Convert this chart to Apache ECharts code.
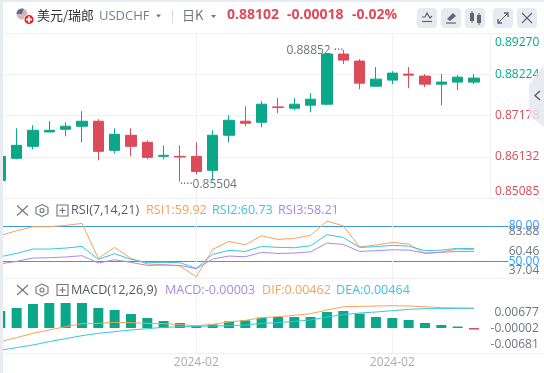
<!DOCTYPE html>
<html><head><meta charset="utf-8">
<style>html,body{margin:0;padding:0;background:#fff}#c{width:544px;height:373px}</style>
<script src="https://cdn.jsdelivr.net/npm/echarts@6/dist/echarts.min.js"></script>
</head><body><div id="c"></div>
<script>
const categories = ['','','','','','','','','','','','','2024-02','','','','','','','','','','','','2024-02','','','','','',''];
const opens  = [.85533,.86094,.864,.86766,.86834,.8691,.87038,.86298,.86681,.86502,.86145,.86145,.86145,.85788,.86681,.87038,.87012,.87403,.87369,.87446,.87471,.88747,.88568,.87931,.88084,.88237,.88186,.87982,.88033,.88033];
const closes = [.86145,.86425,.86808,.86808,.8691,.87038,.86272,.86706,.864,.86119,.8617,.86128,.85762,.86681,.87063,.86987,.87471,.87386,.87471,.87599,.88747,.88594,.88007,.88109,.88262,.88211,.87982,.88033,.8816,.88135];
const lows   = [.85533,.86068,.86323,.86757,.86655,.86502,.86043,.86221,.86145,.86068,.86068,.85504,.85686,.85533,.86502,.8691,.86885,.87242,.87318,.87267,.87446,.88492,.87854,.87931,.87982,.8788,.87905,.87446,.87829,.87982];
const highs  = [.86145,.86859,.86936,.87038,.87012,.87293,.87089,.86859,.86859,.86553,.86425,.86425,.86502,.86808,.87191,.8742,.87548,.87625,.87625,.87752,.88747,.88852,.8862,.88415,.88313,.88415,.88237,.88237,.88211,.88237];
const rsi1 = [71.9,75.8,79.2,79.2,80.3,82,52.5,61.8,52.5,47.8,47.2,46.1,37.04,60.1,66.8,64,71.6,68.5,69.4,71.9,83.88,80,62.1,63.8,66,64.6,56.5,57.9,60.4,59.92];
const rsi2 = [53.9,56.7,60.4,60.4,61.2,62.6,51.7,56.5,51.7,48.9,49.2,48.9,44.1,55.9,59.3,58.4,62.6,61.8,61.5,63.2,72.5,70.2,61.8,62.4,63.5,62.9,59,59.5,61,60.73];
const rsi3 = [48,50,52.8,53.1,53.7,54.8,48.6,51.4,49.2,46.6,46.9,46.6,43.8,52,54.5,53.9,57.6,56.7,57,58.1,65.4,64.3,58.4,59,59.8,59.5,57,57.6,58.4,58.21];
const macd = [.00399,.00469,.00563,.00587,.00587,.00587,.00469,.00422,.00329,.00235,.00164,.00117,.00047,.00086,.00156,.0018,.00242,.00258,.00258,.00258,.00375,.00399,.00336,.00258,.00235,.00188,.00117,.0007,.00023,-.00003];
const dif = [-.00321,-.00227,-.00125,-.00047,.00031,.00102,.00109,.00133,.00125,.00109,.00102,.00078,.00055,.00086,.00141,.0018,.00242,.00266,.00297,.00336,.00422,.005,.00508,.00516,.00524,.00516,.005,.00477,.00469,.00462];
const dea = [-.00524,-.00461,-.00399,-.00321,-.0025,-.0018,-.00125,-.00086,-.00047,-.00016,.00016,.00031,.00039,.00047,.00055,.0007,.00109,.00125,.00156,.00188,.00258,.00313,.00352,.00375,.00407,.00438,.00454,.00454,.00462,.00464];
const priceTicks = [0.85085,0.86132,0.87178,0.88224,0.8927];
const rsiLevels = [50,80];
const rsiTicks = [37.04,60.46,83.88];
const macdTicks = [-0.00681,-0.00002,0.00677];

const GREEN='#0aa888',RED='#dc4b5a',ORANGE='#f5a35c',CYAN='#3cc4e0',PURPLE='#a58be8',BLUE='#3f97e6',GRID='#f1f2f6',GRAY='#6f7480';
const FF='"Open Sans","Noto Sans CJK SC",sans-serif';
const ohlc = opens.map((o,i)=>[o,closes[i],lows[i],highs[i]]);
const hasLabel=(i,v)=>v!=='';

function xAxis(g,labels){return {type:'category',gridIndex:g,data:categories,boundaryGap:false,
  axisLine:{show:false},axisTick:{show:false},
  axisLabel:{show:labels,interval:hasLabel,color:'#a8acb5',fontSize:12,fontFamily:FF,margin:4,hideOverlap:false,showMinLabel:true,showMaxLabel:true},
  splitLine:{show:true,interval:hasLabel,lineStyle:{color:GRID,width:1}}};}
function yLab(col,extra){return Object.assign({color:col,fontSize:12,fontFamily:FF,align:'right',margin:49},extra);}
const T=(text,x,y,fill,font)=>({type:'text',z:50,style:{text,x,y,fill,font:font||('12px '+FF),textVerticalAlign:'middle'}});
const L=(x1,y1,x2,y2,c,w)=>({type:'line',z:50,shape:{x1,y1,x2,y2},style:{stroke:c,lineWidth:w||1}});
const Box=(x,y,w,h,c,r,z)=>({type:'rect',z:z==null?50:z,shape:{x,y,width:w,height:h,r:r||0},style:{fill:c}});
const Poly=(pts,c,w)=>({type:'polyline',z:51,shape:{points:pts},style:{stroke:c,lineWidth:w||1,fill:'none'}});
const Tri=(x,y,c)=>({type:'polygon',z:50,shape:{points:[[x,y],[x+5,y],[x+2.5,y+3]]},style:{fill:c}});
function panelIcons(y){const c='#6f7480';return [
  L(17,y-5,28,y+5,c,1.1),L(28,y-5,17,y+5,c,1.1),
  {type:'polygon',z:50,shape:{points:[[42,y-6],[48,y-3],[48,y+3],[42,y+6],[36,y+3],[36,y-3]]},style:{stroke:c,lineWidth:1.1,fill:'none'}},
  {type:'circle',z:50,shape:{cx:42,cy:y,r:2},style:{stroke:c,lineWidth:1.1,fill:'none'}},
  {type:'rect',z:50,shape:{x:57,y:y-5.5,width:11,height:11},style:{stroke:c,lineWidth:1.1,fill:'none'}},
  L(59.5,y,65.5,y,c,1.1),L(62.5,y-3,62.5,y+3,c,1.1)];}
const btn=[417,441,465,493,517].map(x=>Box(x,8,20,20,'#e8eaf0',4));
const ic='#5e6470';
const F125='12.6px '+FF;
const chrome=[
  Box(0,0,544,2,'#e8ebf0'),Box(0,0,3,373,'#e8ebf0'),
  Box(3,2,541,31,'#ffffff',0,40),
  L(3,33.5,544,33.5,'#f1f2f6'),L(3,198.5,544,198.5,'#eef0f4'),L(3,278.5,544,278.5,'#eef0f4'),L(3,353.5,544,353.5,'#eef0f4'),
  {type:'circle',z:50,shape:{cx:22,cy:14,r:5.5},style:{fill:'#d8b4ba'}},
  {type:'sector',z:50,shape:{cx:22,cy:14,r:5.5,startAngle:Math.PI,endAngle:Math.PI*1.6},style:{fill:'#5a6a9a'}},
  {type:'circle',z:51,shape:{cx:29,cy:19.5,r:5},style:{fill:'#ee1c25',stroke:'#fff',lineWidth:1}},
  Object.assign(Box(26,18.5,6,2,'#fff'),{z:52}),Object.assign(Box(28,16.5,2,6,'#fff'),{z:52}),
  T('美元/瑞郎',37,15,'#333333','13px "Noto Sans CJK SC"'),
  T('USDCHF',99,16,'#7a7f8a','13px '+FF),Tri(156,14.5,'#6f7480'),
  L(172.5,10,172.5,23,'#d5d8de'),
  T('日K',182,15,'#6f7480','13px "Noto Sans CJK SC"'),Tri(211,15,'#6f7480'),
  T('0.88102',227,15,RED,'bold 14px '+FF),T('-0.00018',287,15,RED,'bold 14px '+FF),T('-0.02%',352,15,RED,'bold 14px '+FF),
  ...btn,
  Poly([[422,17],[425,17],[427,13],[430,18],[432,16]],ic,1.2),L(422,21.5,432,21.5,ic,1.2),
  {type:'polygon',z:51,shape:{points:[[447,19],[453,13],[456,16],[450,21]]},style:{fill:ic}},L(446,23,456,23,ic,1.2),
  Object.assign(Box(470,13,4,8,ic),{z:51}),L(472,11,472,23,ic),Object.assign(Box(477,15,4,8,ic),{z:51}),L(479,13,479,25,ic),
  L(498,23,508,13,ic),Poly([[504,13],[508,13],[508,17]],ic,1.4),Poly([[498,19],[498,23],[502,23]],ic,1.4),
  L(522,13,532,23,ic,1.1),L(532,13,522,23,ic,1.1),
  {type:'polygon',z:60,shape:{points:[[544,65],[529,85],[529,115],[544,127]]},style:{fill:'rgba(230,232,238,0.85)'}},
  {type:'polyline',z:61,shape:{points:[[540,91],[535,95.5],[540,100]]},style:{stroke:'#5e6470',lineWidth:1.5,fill:'none'}},
  ...panelIcons(210.5),
  T('RSI(7,14,21)',71,210.5,'#555a65',F125),T('RSI1:59.92',146,210.5,ORANGE,F125),T('RSI2:60.73',212,210.5,CYAN,F125),T('RSI3:58.21',278,210.5,PURPLE,F125),
  ...panelIcons(290),
  T('MACD(12,26,9)',71,290.5,'#555a65',F125),T('MACD:-0.00003',165,290.5,PURPLE,F125),T('DIF:0.00462',262,290.5,ORANGE,F125),T('DEA:0.00464',336,290.5,CYAN,F125)
];
const line=(name,data,col,xi,yi)=>({name,type:'line',data,xAxisIndex:xi,yAxisIndex:yi,showSymbol:false,symbol:'none',lineStyle:{color:col,width:1},itemStyle:{color:col},silent:true,z:5});
const markLabel={color:GRAY,fontSize:12,fontFamily:FF};

const option={animation:false,backgroundColor:'#fff',
 grid:[{left:0.3,width:490,top:33.5,height:164.5},{left:0.3,width:490,top:198,height:80},{left:0.3,width:490,top:278,height:75}],
 xAxis:[xAxis(0,false),xAxis(1,false),xAxis(2,true)],
 yAxis:[
  {type:'value',gridIndex:0,position:'right',min:priceTicks[0],max:priceTicks[4],scale:true,
   axisLine:{show:true,lineStyle:{color:'#eef0f4'}},axisTick:{show:false,customValues:priceTicks},
   splitLine:{show:true,lineStyle:{color:GRID}},
   axisLabel:yLab(GREEN,{customValues:priceTicks,color:v=>v>=0.88?GREEN:RED,formatter:v=>v.toFixed(5),verticalAlignMinLabel:'bottom',verticalAlignMaxLabel:'top',padding:[3,0,0,0]})},
  {type:'value',gridIndex:1,position:'right',min:36,max:103.4,
   axisLine:{show:false},axisTick:{show:true,length:18,customValues:rsiLevels,lineStyle:{color:BLUE,width:1}},
   splitLine:{show:true,lineStyle:{color:BLUE,width:1}},
   axisLabel:yLab('#2f9bff',{customValues:rsiLevels,formatter:v=>v.toFixed(2)})},
  {type:'value',gridIndex:1,position:'right',min:28.2,max:124.9,
   axisLine:{show:false},axisTick:{show:false},splitLine:{show:false},
   axisLabel:yLab(GRAY,{customValues:rsiTicks,formatter:v=>v.toFixed(2)})},
  {type:'value',gridIndex:2,position:'right',min:-0.00587,max:0.01174,
   axisLine:{show:false},axisTick:{show:false},splitLine:{show:false},axisLabel:{show:false}},
  {type:'value',gridIndex:2,position:'right',min:-0.01033,max:0.0215,
   axisLine:{show:false},axisTick:{show:false},splitLine:{show:false},
   axisLabel:yLab(GRAY,{customValues:macdTicks,margin:48.5,padding:[2,0,0,0],formatter:v=>v.toFixed(5)})}
 ],
 series:[
  {name:'K',type:'candlestick',data:ohlc,xAxisIndex:0,yAxisIndex:0,barWidth:11,
   itemStyle:{color:GREEN,color0:RED,borderColor:GREEN,borderColor0:RED,borderWidth:1},
   markPoint:{symbol:'circle',symbolSize:0,silent:true,data:[
     {coord:[21,highs[21]],value:highs[21],label:{show:true,position:'left',distance:0,offset:[0,1],formatter:p=>p.value.toFixed(5)+' ···',...markLabel}},
     {coord:[11,lows[11]],value:lows[11],label:{show:true,position:'right',distance:0,offset:[0,3],formatter:p=>'····'+p.value.toFixed(5),...markLabel}}
   ]}},
  line('RSI1',rsi1,ORANGE,1,1),line('RSI2',rsi2,CYAN,1,1),line('RSI3',rsi3,PURPLE,1,1),
  {name:'MACD',type:'bar',data:macd,xAxisIndex:2,yAxisIndex:3,barWidth:10,barMinHeight:1.5,z:2,silent:true,
   itemStyle:{color:p=>p.value>=0?GREEN:RED}},
  line('DIF',dif,ORANGE,2,3),line('DEA',dea,CYAN,2,3)
 ],
 graphic:{elements:chrome}
};
const chart=echarts.init(document.getElementById('c'),null,{renderer:'canvas',width:544,height:373});
chart.setOption(option);
</script></body></html>
